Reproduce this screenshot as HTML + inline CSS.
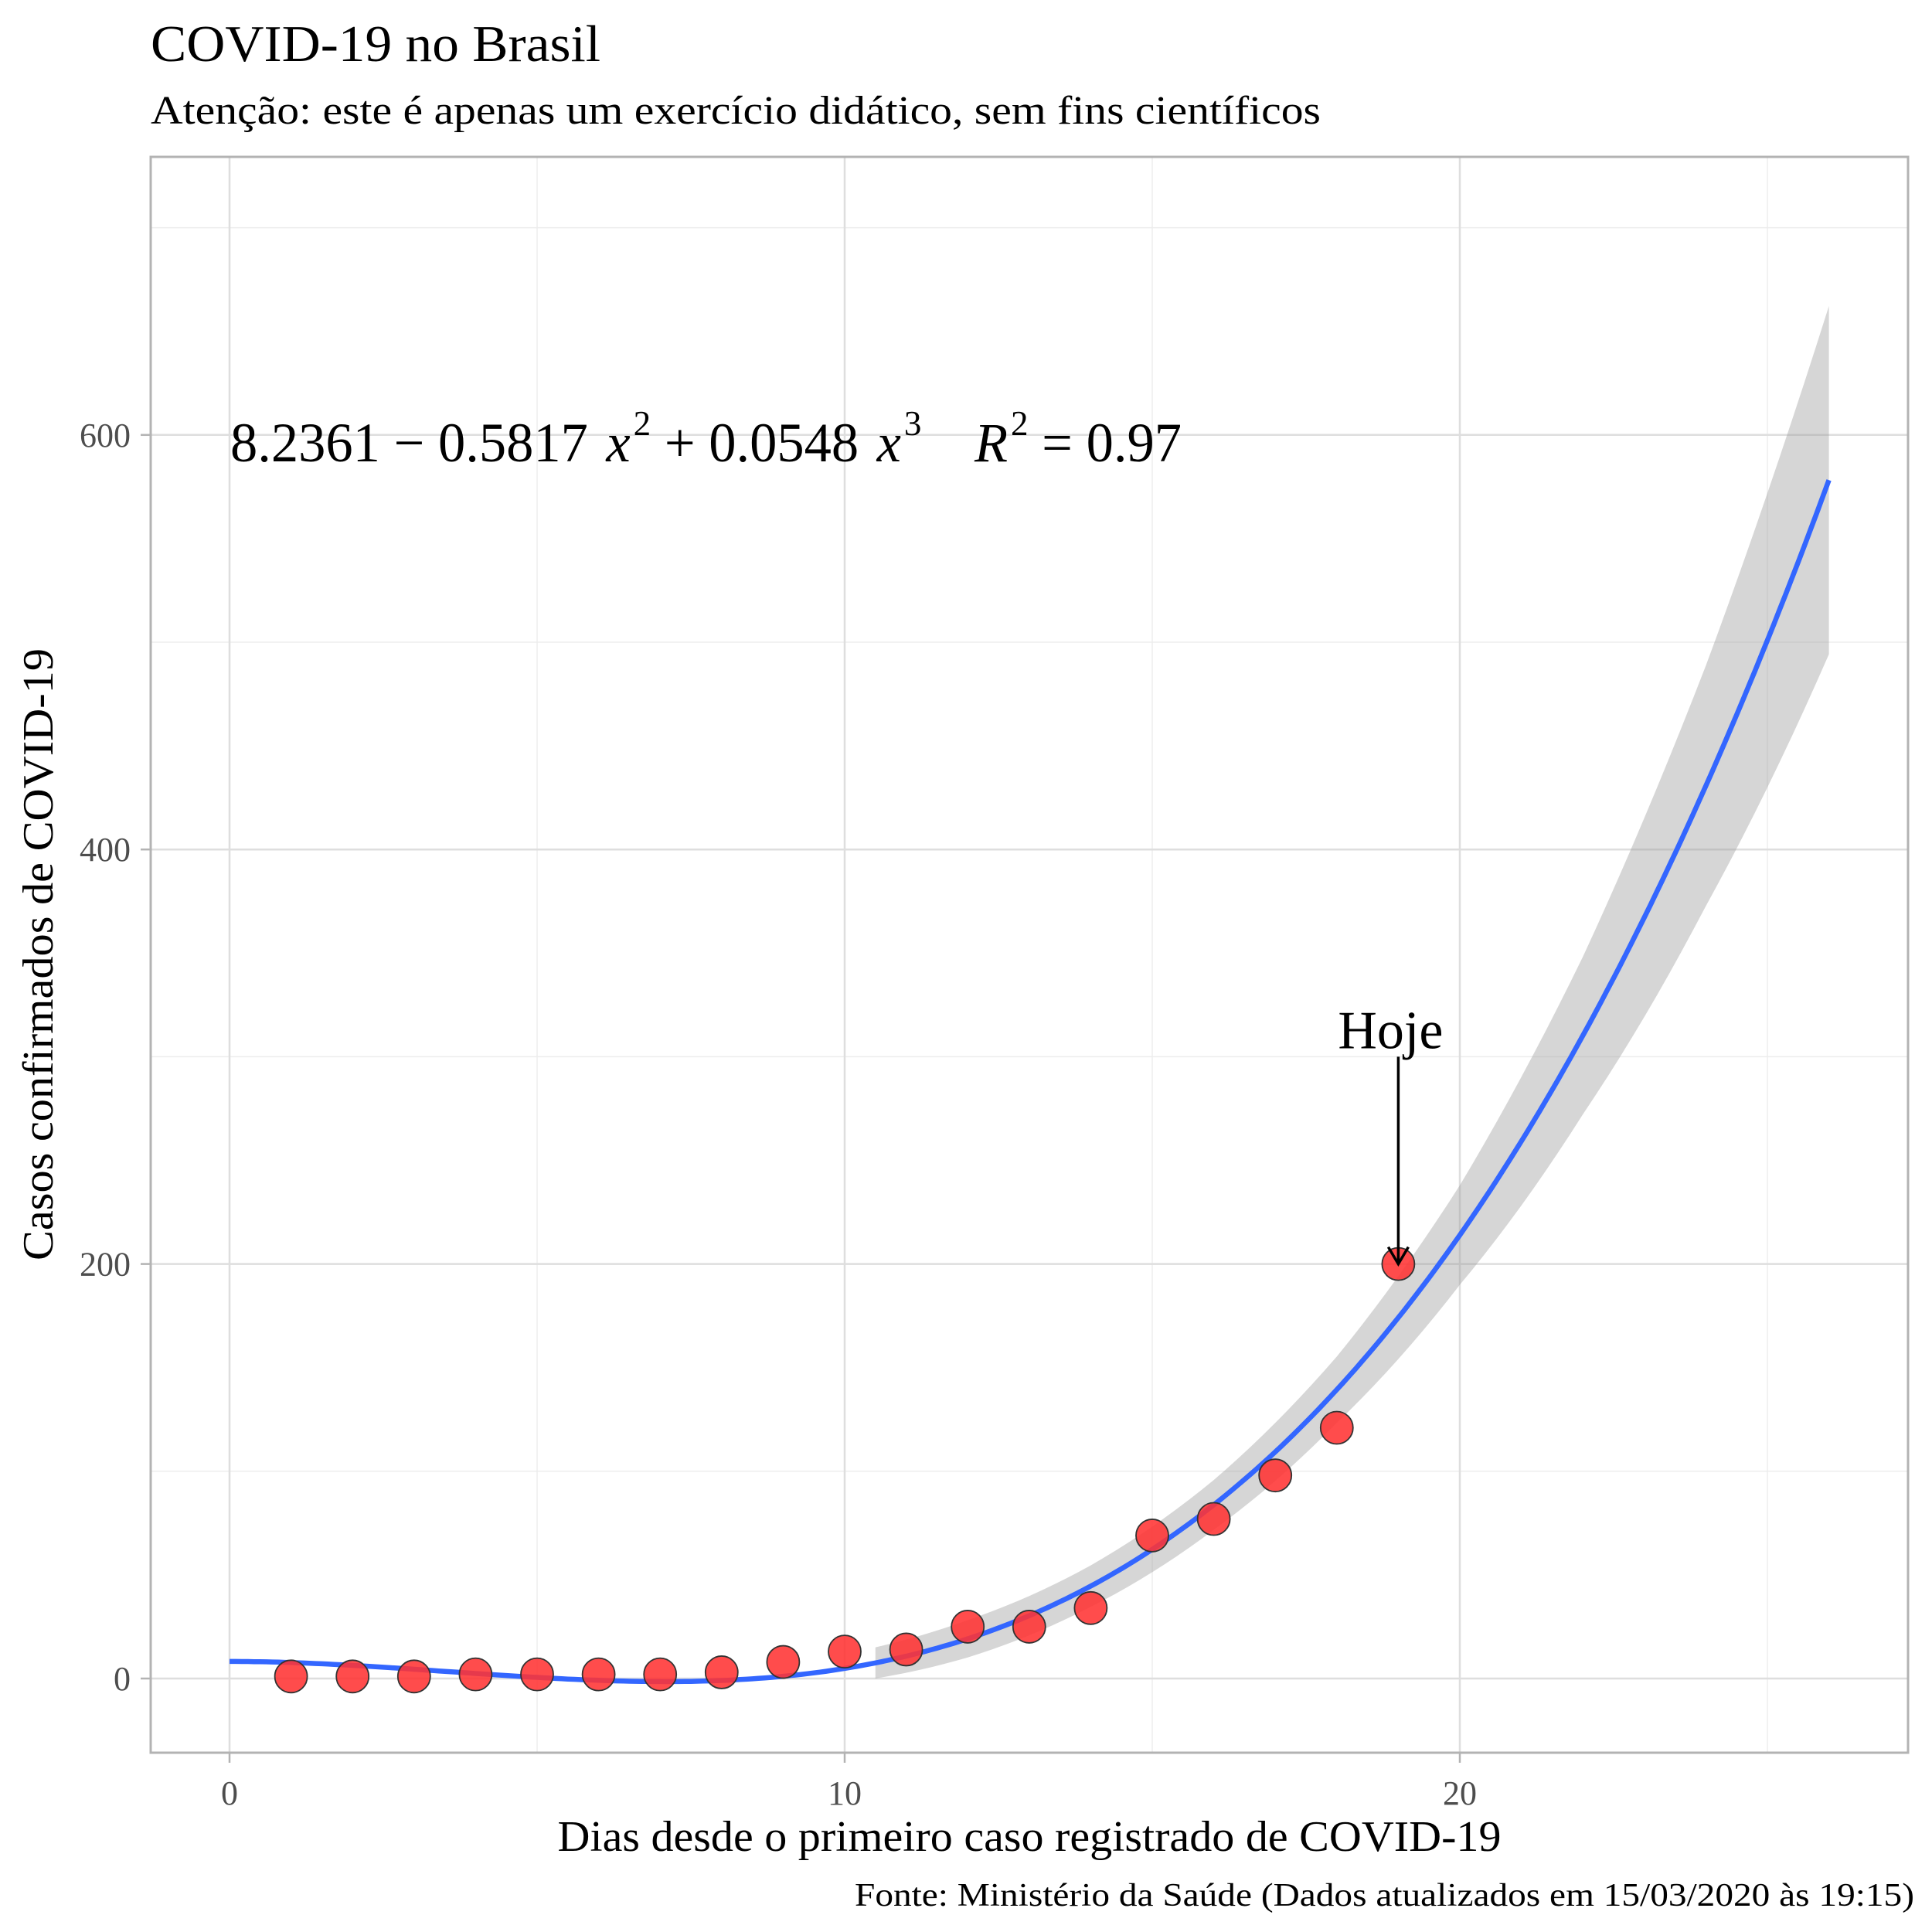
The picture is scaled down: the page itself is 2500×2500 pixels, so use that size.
<!DOCTYPE html>
<html><head><meta charset="utf-8"><style>
html,body{margin:0;padding:0;background:#fff}
svg{display:block;font-family:"Liberation Serif",serif}
</style></head><body>
<svg id="chart" width="2500" height="2500" viewBox="0 0 2500 2500">
<rect x="0" y="0" width="2500" height="2500" fill="#fff"/>
<text x="195" y="79" font-size="67" textLength="582" lengthAdjust="spacingAndGlyphs" fill="#000">COVID-19 no Brasil</text>
<text x="195" y="160" font-size="52" textLength="1514" lengthAdjust="spacingAndGlyphs" fill="#000">Atenção: este é apenas um exercício didático, sem fins científicos</text>
<g id="grid"></g>
<g id="ribbon"></g>
<g id="line"></g>
<g id="points"></g>
<g id="axes"></g>
<text x="298" y="597" font-size="72" textLength="1231" lengthAdjust="spacingAndGlyphs" fill="#000">8.2361 − 0.5817 <tspan font-style="italic" dx="6">x</tspan><tspan dy="-34" font-size="46" dx="4">2</tspan><tspan dy="34" dx="18">+ 0.0548 </tspan><tspan font-style="italic" dx="6">x</tspan><tspan dy="-34" font-size="46" dx="4">3</tspan><tspan dy="34" font-style="italic" dx="70">R</tspan><tspan dy="-34" font-size="46" dx="4">2</tspan><tspan dy="34" dx="18">= 0.97</tspan></text>
<g id="annot"></g>
<text x="1332" y="2395" font-size="56" text-anchor="middle" textLength="1221" lengthAdjust="spacingAndGlyphs" fill="#000">Dias desde o primeiro caso registrado de COVID-19</text>
<text transform="translate(68,1235) rotate(-90)" font-size="56" text-anchor="middle" textLength="792" lengthAdjust="spacingAndGlyphs" fill="#000">Casos confirmados de COVID-19</text>
<text x="2477" y="2466" font-size="42" text-anchor="end" textLength="1371" lengthAdjust="spacingAndGlyphs" fill="#000">Fonte: Ministério da Saúde (Dados atualizados em 15/03/2020 às 19:15)</text>
</svg>
<script>
const days = [1,2,3,4,5,6,7,8,9,10,11,12,13,14,15,16,17,18,19];
const cases = [1,1,1,2,2,2,2,3,8,13,14,25,25,34,69,77,98,121,200];
const coef = [8.2361, 0, -0.5817, 0.0548];
const bandX = [10.5,12,14,16,18,20,22,24,26];
const bandHalf = [7.5,9,10,12,16,24,38,58,84];
const xTicks = [0,10,20];
const xMinor = [5,15,25];
const yTicks = [0,200,400,600];
const yMinor = [100,300,500,700];
const todayX = 19, todayY = 200, todayLabel = "Hoje";

const PL=195, PR=2469, PT=203, PB=2268;
const sx = v => 297 + v*79.6;
const sy = v => 2172 - v*2.682;
const NS="http://www.w3.org/2000/svg";
function mk(tag, parent, attrs){const e=document.createElementNS(NS,tag);for(const k in attrs)e.setAttribute(k,attrs[k]);parent.appendChild(e);return e;}
const fit = x => coef[0]+coef[1]*x+coef[2]*x*x+coef[3]*x*x*x;

const grid=document.getElementById('grid');
mk('rect',grid,{x:PL,y:PT,width:PR-PL,height:PB-PT,fill:'#fff'});
xMinor.forEach(v=>{const l=mk('line',grid,{x1:sx(v),x2:sx(v),y1:PT,y2:PB,stroke:'#ededed','stroke-width':1.5});

});
yMinor.forEach(v=>{const l=mk('line',grid,{x1:PL,x2:PR,y1:sy(v),y2:sy(v),stroke:'#ededed','stroke-width':1.5});

});
xTicks.forEach(v=>{const l=mk('line',grid,{x1:sx(v),x2:sx(v),y1:PT,y2:PB,stroke:'#dedede','stroke-width':2.5});

});
yTicks.forEach(v=>{const l=mk('line',grid,{x1:PL,x2:PR,y1:sy(v),y2:sy(v),stroke:'#dedede','stroke-width':2.5});

});

const rib=document.getElementById('ribbon');
let up=[],lo=[];
for(let i=0;i<bandX.length-1;i++){
  for(let t=0;t<10;t++){
    const f=t/10, x=bandX[i]+(bandX[i+1]-bandX[i])*f, h=bandHalf[i]+(bandHalf[i+1]-bandHalf[i])*f;
    up.push([sx(x),sy(fit(x)+h)]); lo.push([sx(x),sy(fit(x)-h)]);
  }
}
{const x=bandX[bandX.length-1],h=bandHalf[bandHalf.length-1];up.push([sx(x),sy(fit(x)+h)]);lo.push([sx(x),sy(fit(x)-h)]);}
const pts=up.concat(lo.reverse()).map(p=>p.join(',')).join(' ');
const rp=mk('polygon',rib,{points:pts,fill:'#999',opacity:0.4});



const ln=document.getElementById('line');
let d='';
for(let x=0;x<=26.0001;x+=0.1){d+=(d?'L':'M')+sx(x).toFixed(1)+','+sy(fit(x)).toFixed(1);}
const lp=mk('path',ln,{d:d,fill:'none',stroke:'#3366FF','stroke-width':6.5});



const pg=document.getElementById('points');
days.forEach((dd,i)=>{const c=mk('circle',pg,{cx:sx(dd),cy:sy(cases[i]),r:21,fill:'#ff3333','fill-opacity':0.88,stroke:'#333','stroke-width':1.8});

});

const ax=document.getElementById('axes');
const b=mk('rect',ax,{x:PL,y:PT,width:PR-PL,height:PB-PT,fill:'none',stroke:'#b3b3b3','stroke-width':3});


xTicks.forEach(v=>{
  const t=mk('line',ax,{x1:sx(v),x2:sx(v),y1:PB,y2:PB+13,stroke:'#b3b3b3','stroke-width':2.5});
  
  
  const tx=mk('text',ax,{x:sx(v),y:2335,'font-size':44,'text-anchor':'middle',fill:'#4d4d4d'});
  tx.textContent=String(v);
  
  
});
yTicks.forEach(v=>{
  const t=mk('line',ax,{x1:PL-13,x2:PL,y1:sy(v),y2:sy(v),stroke:'#b3b3b3','stroke-width':2.5});
  
  
  const tx=mk('text',ax,{x:169,y:sy(v)+15,'font-size':44,'text-anchor':'end',fill:'#4d4d4d'});
  tx.textContent=String(v);
  
  
});

const an=document.getElementById('annot');
const at=mk('text',an,{x:sx(todayX)-10,y:sy(304),'font-size':70,'text-anchor':'middle',fill:'#000'});
at.textContent=todayLabel;


const al=mk('line',an,{x1:sx(todayX),x2:sx(todayX),y1:sy(300),y2:sy(todayY),stroke:'#000','stroke-width':3.5});


const ah=mk('path',an,{d:`M${sx(todayX)-13},${sy(todayY)-22}L${sx(todayX)},${sy(todayY)}L${sx(todayX)+13},${sy(todayY)-22}`,fill:'none',stroke:'#000','stroke-width':3.5});


</script>
</body></html>
